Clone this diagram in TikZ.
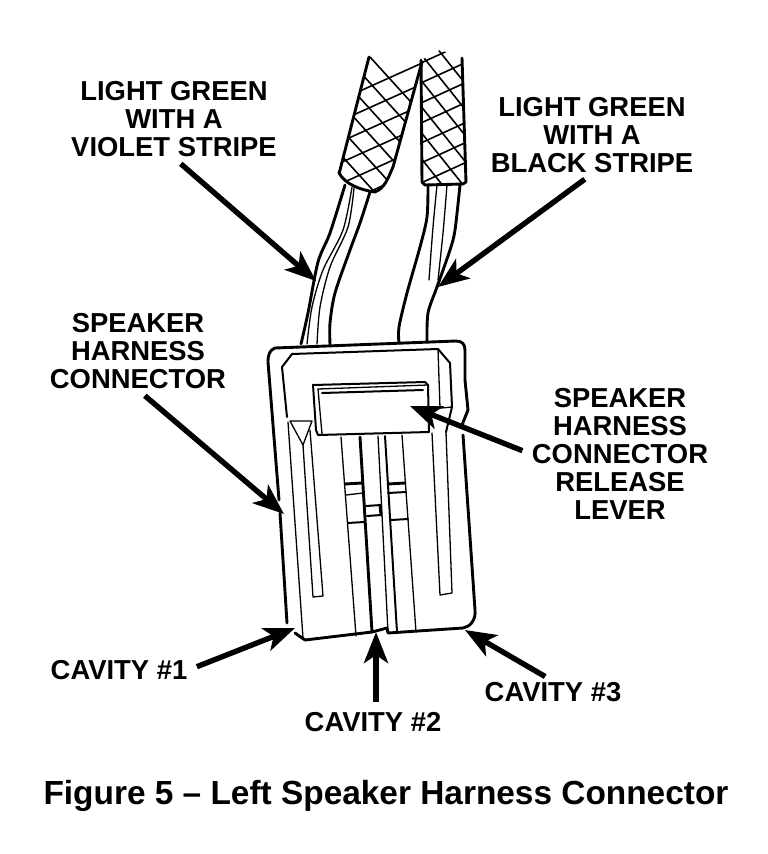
\documentclass[tikz,border=0pt]{standalone}
\usepackage{fontspec}
\setmainfont{Liberation Sans}
\usetikzlibrary{arrows.meta}
\tikzset{
  x=1pt,y=-1pt,
  calloutlbl/.style={font=\bfseries\fontsize{27.4}{28}\selectfont,align=center,inner sep=1pt},
  callout/.style={line width=5.4pt,shorten <=9pt,-{Stealth[length=31pt,width=24pt,inset=8pt]}},
  heavy/.style={line width=2.9pt,line join=round,line cap=round},
  medium/.style={line width=2pt,line join=round,line cap=round},
  fine/.style={line width=1.3pt,line join=round,line cap=round},
  mesh/.style={line width=1.6pt}
}
\begin{document}
\begin{tikzpicture}
  \useasboundingbox (0,0) rectangle (768,854);
  % braided sleeves
  \begin{scope}
    \clip (369,57) -- (340,170) -- (339,173) .. controls (345,184) and (360,190) .. (375,192) .. controls (385,188) and (388,178) .. (393,167) -- (422,62) -- (400,50) -- cycle;
    \foreach \k in {-3,...,9}
      \draw[mesh] (320,{172+\k*21}) -- (440,{118+\k*21});
    \foreach \k in {0,...,9}
      \draw[mesh] (300,{\k*26-20}) -- (420,{\k*26+112});
  \end{scope}
  \begin{scope}
    \clip (421,60) -- (422,182) -- (425,185) -- (463,184) -- (466,182) -- (462,58) -- (440,50) -- cycle;
    \foreach \k in {-2,...,9}
      \draw[mesh] (410,{88+\k*20}) -- (480,{56+\k*20});
    \foreach \k in {-5,...,4}
      \draw[mesh] (400,{\k*26+80}) -- (480,{\k*26+180});
  \end{scope}
  \draw[heavy] (369,57) -- (340,170) -- (339,173) .. controls (345,184) and (360,190) .. (375,192) .. controls (385,188) and (388,178) .. (393,167) -- (422,62);
  \draw[heavy] (462,58) -- (466,182) -- (463,184) -- (425,185) -- (422,182) -- (421,60);
  % wires
  \draw[heavy] plot[smooth] coordinates {(345,185) (330,233) (318,262) (308,313) (301,344)};
  \draw[fine] plot[smooth] coordinates {(352,187) (343,230) (323,270) (312,307) (307,344)};
  \draw[fine] plot[smooth] coordinates {(354,188) (348,227) (330,267) (320,307) (317,344)};
  \draw[heavy] plot[smooth] coordinates {(370,192) (360,223) (350,250) (335,293) (330,323) (330,344)};
  \draw[heavy] plot[smooth] coordinates {(428,185) (427,217) (420,247) (407,293) (399,327) (399,343)};
  \draw[fine] plot[smooth] coordinates {(437,185) (433,227) (429,280)};
  \draw[fine] plot[smooth] coordinates {(447,185) (443,233) (438,280)};
  \draw[heavy] plot[smooth] coordinates {(460,185) (455,230) (450,250) (437,287) (428,313) (427,342)};
  % connector body
  \draw[heavy] (279,500) -- (268,362) .. controls (268,354) and (270,350) .. (275,348) -- (456,341) .. controls (462,341) and (465,344) .. (465,350) -- (465,380) -- (468,410) -- (462,425);
  \draw[heavy] (463,435) -- (475,610) .. controls (476,620) and (470,627) .. (463,628) -- (388,633) -- (387,628) -- (372,632) -- (305,640) -- (295,633);
  \draw[heavy] (287,623) -- (280,513);
  \draw[medium] (282,367) -- (292,354) -- (438,349) -- (450,363) -- (452,407) -- (446,432);
  \draw[medium] (282,367) -- (287,417);
  \draw[fine] (438,349) -- (440,408);
  \draw[fine] (430,409) -- (452,407);
  % release lever
  \draw[medium] (318,435) -- (316,430) -- (313,385) -- (425,382) -- (428,385) -- (429,432) -- cycle;
  \draw[fine] (318,389) -- (428,385);
  \draw[fine] (318,389) -- (322,434);
  \draw[medium] (322,393) -- (423,390);
  % side slots
  \draw[fine] (290,421) -- (312,421) -- (303,445) -- cycle;
  \draw[fine] (288,422) -- (303,638);
  \draw[fine] (303,445) -- (313,597) -- (323,596) -- (310,430);
  \draw[fine] (432,433) -- (440,595) -- (452,593) -- (446,432);
  % centre channels
  \draw[fine] (341,437) -- (356,636);
  \draw[heavy] (360,437) -- (372,632);
  \draw[fine] (378,436) -- (388,632);
  \draw[medium] (385,436) -- (397,632);
  \draw[fine] (402,435) -- (416,632);
  \draw[heavy] (345,484) -- (362,483);
  \draw[fine] (346,495) -- (363,493);
  \draw[medium] (348,523) -- (364,522);
  \draw[medium] (366,506) -- (381,505);
  \draw[medium] (367,516) -- (381,515);
  \draw[heavy] (380,505) -- (381,515);
  \draw[heavy] (388,484) -- (405,483);
  \draw[medium] (388,493) -- (406,492);
  \draw[medium] (391,520) -- (408,519);
  % labels
  \node[calloutlbl] (violet) at (174,119) {LIGHT GREEN\\WITH A\\VIOLET STRIPE};
  \node[calloutlbl] (black) at (592,135) {LIGHT GREEN\\WITH A\\BLACK STRIPE};
  \node[calloutlbl] (harness) at (138,351) {SPEAKER\\HARNESS\\CONNECTOR};
  \node[calloutlbl] (lever) at (620,454) {SPEAKER\\HARNESS\\CONNECTOR\\RELEASE\\LEVER};
  \node[calloutlbl] (cavone) at (119,670) {CAVITY \#1};
  \node[calloutlbl] (cavtwo) at (373,722) {CAVITY \#2};
  \node[calloutlbl] (cavthree) at (553,692) {CAVITY \#3};
  \node[font=\bfseries\fontsize{33.4}{36}\selectfont,inner sep=0pt] (title) at (386,796) {Figure 5 -- Left Speaker Harness Connector};
  \coordinate (violettip) at (316,281);
  \coordinate (blacktip) at (438,287);
  \coordinate (harnesstip) at (284,514);
  \coordinate (levertip) at (410,406);
  \coordinate (cavonetip) at (295,628);
  \coordinate (cavtwotip) at (376,632);
  \coordinate (cavthreetip) at (465,630);
  \draw[callout] (violet.south) -- (violettip);
  \draw[callout] (black.south) -- (blacktip);
  \draw[callout] (harness.south) -- (harnesstip);
  \draw[callout] (lever.west) -- (levertip);
  \draw[callout] (cavone.east) -- (cavonetip);
  \draw[callout] (cavtwotip |- cavtwo.north) -- (cavtwotip);
  \draw[callout] (cavthree.north) -- (cavthreetip);
\end{tikzpicture}
\end{document}
